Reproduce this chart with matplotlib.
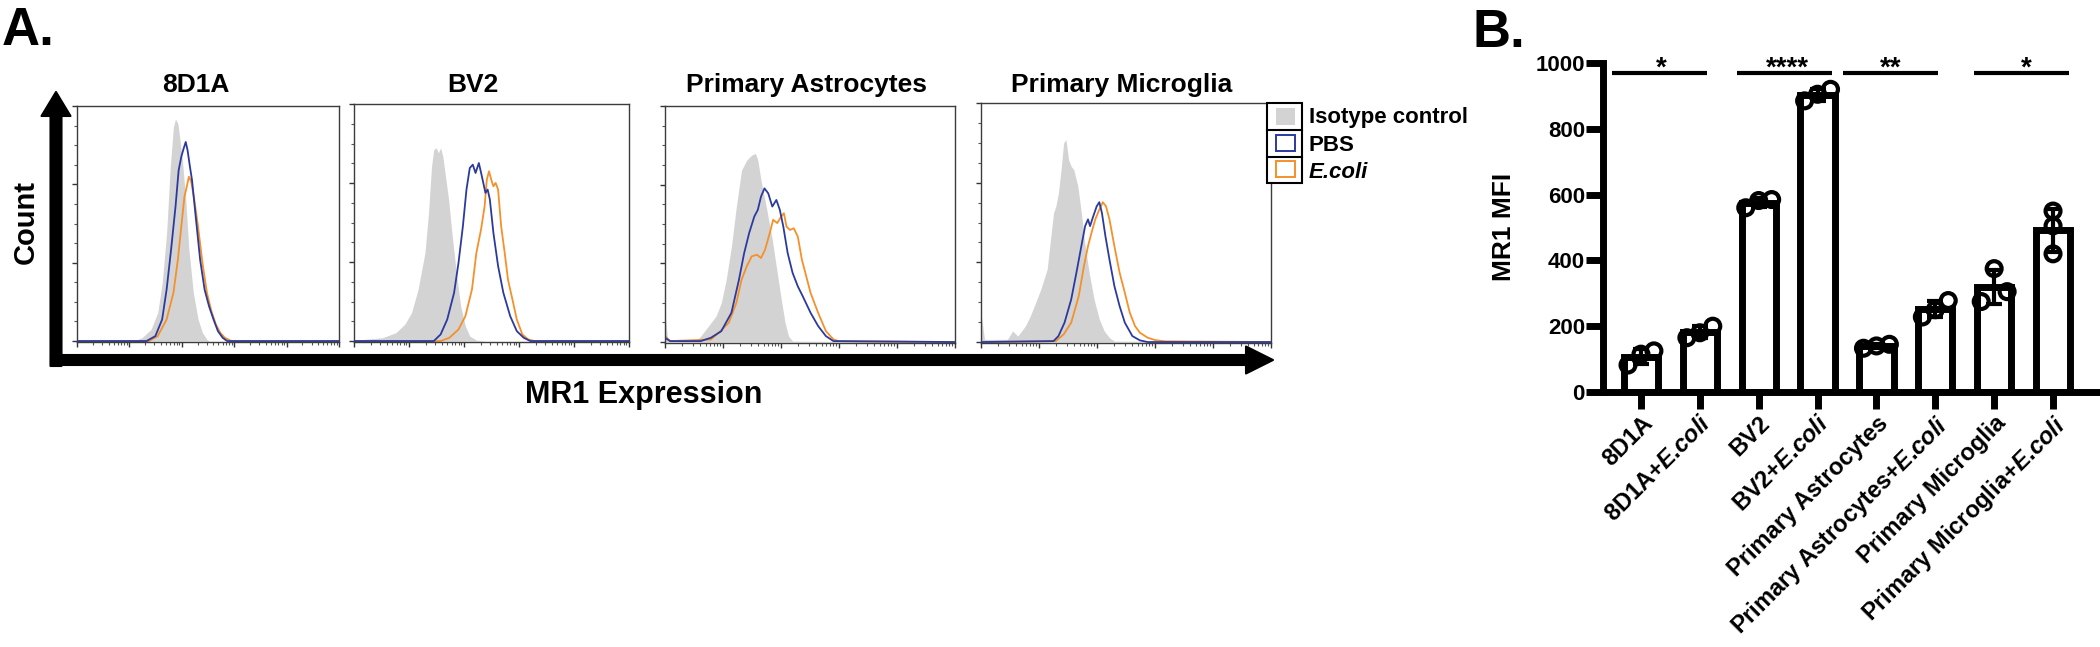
# ============================================================
# MR1 expression: flow histograms (A) + MFI bar chart (B)
# ============================================================
import numpy as np
import matplotlib.pyplot as plt
from matplotlib.patches import FancyArrow, Rectangle

plt.rcParams['font.family'] = ['Liberation Sans', 'DejaVu Sans']
plt.rcParams['font.weight'] = 'bold'
plt.rcParams['mathtext.fontset'] = 'custom'
plt.rcParams['mathtext.rm'] = 'Liberation Sans:bold'
plt.rcParams['mathtext.bf'] = 'Liberation Sans:bold'
plt.rcParams['mathtext.it'] = 'Liberation Sans:italic:bold'

# ==========================
# Data - panel A (histograms, % of panel height vs. position 0-100)
# ==========================
panel_titles = ["8D1A", "BV2", "Primary Astrocytes", "Primary Microglia"]

# 8D1A
iso1_x = [0, 21.4, 24.8, 28.2, 30.8, 32.5, 34.2, 35.6, 36.8, 37.6, 38.5, 39.3, 40.2, 41.5, 42.7, 44.4, 46.2, 47.9, 49.6, 50.4, 100]
iso1_y = [0, 0, 1.4, 4.9, 12.0, 24.7, 45.9, 74.2, 91.2, 94.4, 92.5, 85.6, 77.1, 60.2, 39.0, 20.6, 9.3, 3.5, 0.7, 0, 0]
pbs1_x = [0, 26.5, 29.9, 32.5, 34.2, 35.9, 37.6, 38.8, 39.8, 40.7, 41.5, 42.2, 43.1, 43.9, 45.3, 47.0, 48.7, 50.4, 52.1, 53.8, 55.6, 57.3, 100]
pbs1_y = [0, 0, 2.1, 9.2, 21.9, 38.8, 57.2, 72.7, 78.4, 81.9, 84.7, 81.2, 74.2, 68.5, 53.0, 34.6, 21.9, 14.8, 9.2, 4.2, 1.4, 0, 0]
eco1_x = [0, 27.4, 30.8, 34.2, 36.8, 38.5, 39.8, 41.0, 41.9, 42.7, 43.6, 44.8, 46.2, 47.9, 49.6, 51.3, 53.0, 54.7, 56.4, 59.0, 100]
eco1_y = [0, 0, 2.1, 9.2, 20.5, 34.6, 48.7, 61.4, 65.7, 69.9, 67.8, 59.9, 48.7, 33.1, 20.5, 12.7, 7.1, 3.5, 1.4, 0, 0]

# BV2
iso2_x = [0, 3.8, 10.3, 15.2, 18.4, 20.9, 23.3, 25.8, 27.1, 28.2, 29.0, 29.9, 30.7, 31.5, 32.3, 33.1, 34.4, 35.6, 37.2, 38.8, 40.5, 42.1, 44.5, 47.8, 100]
iso2_y = [0, 0.7, 1.4, 3.5, 7.0, 11.9, 21.8, 37.2, 54.1, 73.7, 80.8, 81.5, 79.4, 81.5, 77.9, 70.9, 59.7, 45.6, 28.8, 14.7, 6.3, 2.1, 0.4, 0, 0]
pbs2_x = [0, 29.0, 31.5, 33.9, 36.4, 38.0, 39.6, 40.9, 42.1, 43.2, 44.2, 45.4, 46.5, 47.8, 48.6, 49.4, 50.7, 52.4, 54.3, 56.8, 59.2, 61.7, 64.1, 100]
pbs2_y = [0, 0, 2.8, 9.1, 20.4, 33.0, 48.5, 63.9, 73.0, 74.4, 70.9, 75.1, 69.5, 62.5, 63.9, 59.7, 45.6, 31.6, 20.4, 10.5, 4.2, 1.4, 0, 0]
eco2_x = [0, 31.5, 34.7, 38.0, 40.5, 42.9, 44.5, 46.2, 47.5, 48.3, 49.1, 49.9, 50.7, 51.5, 52.4, 53.5, 54.8, 56.0, 57.6, 59.2, 61.2, 63.3, 65.7, 100]
eco2_y = [0, 0, 1.4, 4.9, 10.5, 21.8, 37.2, 47.1, 56.9, 68.1, 71.6, 68.1, 65.3, 66.7, 63.9, 48.5, 37.2, 25.9, 17.6, 9.1, 2.8, 0.7, 0, 0]

# Primary Astrocytes
iso3_x = [0, 0.9, 1.8, 10.6, 12.3, 15.0, 17.6, 19.4, 21.1, 22.9, 24.6, 26.4, 28.2, 29.9, 31.2, 32.0, 33.1, 34.9, 37.0, 38.7, 40.1, 41.4, 42.6, 44.0, 100]
iso3_y = [12.4, 1.1, 0.4, 0.4, 2.5, 6.8, 11.0, 16.6, 26.4, 40.5, 57.4, 72.9, 77.1, 79.2, 79.9, 77.1, 68.6, 57.4, 43.3, 29.3, 18.0, 8.2, 2.5, 0.4, 0]
pbs3_x = [0, 1.8, 12.3, 15.8, 19.4, 22.9, 25.5, 27.3, 29.0, 30.8, 32.0, 33.1, 34.3, 35.6, 37.0, 38.4, 39.6, 40.8, 42.3, 44.0, 45.8, 47.5, 50.2, 52.8, 55.5, 58.1, 100]
pbs3_y = [1.8, 0.4, 0.4, 1.8, 4.6, 12.4, 26.4, 37.7, 46.1, 53.2, 56.0, 61.6, 65.1, 63.0, 57.4, 60.2, 56.0, 48.9, 37.7, 29.3, 23.6, 19.4, 12.4, 6.8, 2.5, 0.4, 0]
eco3_x = [0, 1.8, 15.8, 18.5, 22.0, 24.6, 26.4, 28.2, 29.9, 31.7, 33.1, 34.5, 36.1, 37.3, 38.7, 40.1, 41.0, 41.9, 43.1, 44.4, 45.8, 47.2, 48.4, 50.2, 52.8, 55.5, 58.1, 59.9, 100]
eco3_y = [2.5, 0.4, 1.1, 3.9, 8.2, 16.6, 26.4, 32.1, 36.3, 37.0, 35.6, 39.1, 46.1, 51.8, 50.4, 53.2, 54.6, 48.9, 47.5, 48.2, 44.7, 34.9, 29.3, 20.8, 12.4, 4.6, 1.1, 0.4, 0]

# Primary Microglia
iso4_x = [0, 1.2, 9.1, 10.9, 12.7, 15.3, 17.0, 18.8, 20.6, 22.8, 25.0, 25.8, 26.7, 27.6, 28.5, 29.3, 30.2, 31.1, 32.0, 33.4, 34.6, 35.9, 37.3, 39.0, 40.8, 42.5, 44.3, 46.0, 100]
iso4_y = [12.3, 1.1, 1.1, 4.6, 2.5, 6.7, 10.9, 16.4, 22.0, 30.4, 54.0, 56.8, 62.4, 72.1, 83.3, 84.7, 76.3, 73.5, 72.1, 65.2, 54.0, 40.1, 29.0, 17.8, 9.5, 4.6, 1.8, 0.4, 0]
pbs4_x = [0, 25.0, 26.7, 28.8, 31.1, 32.9, 34.6, 35.9, 36.9, 37.6, 38.7, 39.9, 40.8, 41.7, 42.9, 44.3, 46.0, 47.8, 49.6, 52.2, 54.8, 57.5, 100]
pbs4_y = [0, 0.4, 2.5, 8.1, 17.8, 29.0, 40.1, 48.5, 51.3, 48.5, 52.6, 56.8, 58.5, 54.0, 44.3, 34.5, 23.4, 15.0, 8.1, 2.5, 0.7, 0, 0]
eco4_x = [0, 25.8, 28.5, 31.1, 33.7, 35.5, 36.9, 38.1, 39.4, 40.8, 42.0, 43.1, 44.3, 46.0, 47.8, 49.6, 51.3, 53.1, 54.8, 57.5, 60.1, 63.6, 100]
eco4_y = [0, 0.4, 3.2, 8.1, 19.2, 31.8, 40.1, 45.7, 51.3, 55.4, 58.5, 56.8, 51.3, 40.1, 29.0, 20.6, 12.3, 6.7, 3.9, 1.8, 0.8, 0.3, 0]

legend_labels = ["Isotype control", "PBS", "E.coli"]

# ==========================
# Data - panel B (MR1 MFI, 3 replicates per group)
# ==========================
ECOLI = "$\\mathit{E}$.$\\mathit{coli}$"
groups = ["8D1A", "8D1A+" + ECOLI, "BV2", "BV2+" + ECOLI,
          "Primary Astrocytes", "Primary Astrocytes+" + ECOLI,
          "Primary Microglia", "Primary Microglia+" + ECOLI]
mfi_values = [
    [82, 125, 115],
    [165, 200, 180],
    [560, 585, 582],
    [885, 920, 905],
    [133, 145, 140],
    [278, 228, 250],
    [375, 275, 305],
    [550, 505, 420],
]
yticks_b = [0, 200, 400, 600, 800, 1000]
sig_labels = ["*", "****", "**", "*"]
sig_spans = [(-0.49, 1.12), (1.63, 3.24), (3.43, 5.04), (5.65, 7.27)]
sig_star_x = [0.34, 2.49, 4.24, 6.55]

# ==========================
# Colours
# ==========================
c_iso = "#d3d3d3"
c_pbs = "#2b3a9e"
c_eco = "#f5902a"

# ============================================================
# FIGURE
# ============================================================
W, H = 2100, 647
fig = plt.figure(figsize=(21, 6.47), dpi=100)


def px_axes(x0, y0, x1, y1):
    return fig.add_axes([x0 / W, 1 - y1 / H, (x1 - x0) / W, (y1 - y0) / H])


# ============================================================
# PANEL A - HISTOGRAMS
# ============================================================
hist_data = [
    (iso1_x, iso1_y, pbs1_x, pbs1_y, eco1_x, eco1_y),
    (iso2_x, iso2_y, pbs2_x, pbs2_y, eco2_x, eco2_y),
    (iso3_x, iso3_y, pbs3_x, pbs3_y, eco3_x, eco3_y),
    (iso4_x, iso4_y, pbs4_x, pbs4_y, eco4_x, eco4_y),
]
panel_boxes = [(77, 106, 339, 342), (354, 104, 629, 342),
               (665, 106, 955, 343), (981, 103, 1271, 343)]
title_x = [196, 473, 807, 1122]

bottom_major = np.arange(0, 101, 20)
bottom_minor = np.array([d * 20 + 20 * np.log10(k) for d in range(5) for k in range(2, 10)])

for (ix, iy, px, py, ex, ey), box, tx, title in zip(hist_data, panel_boxes, title_x, panel_titles):
    ax = px_axes(*box)
    ax.fill_between(ix, iy, 0, color=c_iso, lw=0, zorder=1)
    ax.plot(px, py, color=c_pbs, lw=1.3, zorder=3)
    ax.plot(ex, ey, color=c_eco, lw=1.3, zorder=2)
    ax.set_xlim(0, 100)
    ax.set_ylim(-0.4, 100)
    for s in ax.spines.values():
        s.set_color("#3c3c3c")
        s.set_linewidth(1.0)
    ax.set_yticks(np.linspace(0, 100, 4))
    ax.set_yticks(np.linspace(0, 100, 13), minor=True)
    ax.set_xticks(bottom_major)
    ax.set_xticks(bottom_minor, minor=True)
    ax.tick_params(which="major", length=3.5, width=1.0, color="#333333", direction="out",
                   labelleft=False, labelbottom=False)
    ax.tick_params(which="minor", length=2, width=0.8, color="#555555", direction="out")
    fig.text(tx / W, 1 - 92 / H, title, ha="center", va="baseline",
             fontsize=19, fontweight="bold")

# ============================================================
# PANEL B - BAR CHART
# ============================================================
idx = np.arange(len(groups))
means = np.array([np.mean(v) for v in mfi_values])
sds = np.array([np.std(v, ddof=1) for v in mfi_values])


def spread(vals, thr=40, step=0.22):
    vals = np.asarray(vals, dtype=float)
    order = np.argsort(vals)
    offs = np.zeros(len(vals))
    clusters, cur = [], [order[0]]
    for a, b in zip(order[:-1], order[1:]):
        if vals[b] - vals[a] < thr:
            cur.append(b)
        else:
            clusters.append(cur)
            cur = [b]
    clusters.append(cur)
    for g in clusters:
        if len(g) > 1:
            offs[g] = np.linspace(-step, step, len(g))
    return offs


axb = px_axes(1603, 63, 2097, 392)
axb.bar(idx, means, width=0.58, color="white", edgecolor="black", linewidth=5, zorder=2)
axb.errorbar(idx, means, yerr=sds, fmt="none", ecolor="black", elinewidth=3,
             capsize=6, capthick=3, zorder=3)
for i, vals in enumerate(mfi_values):
    axb.scatter(i + spread(vals), vals, s=115, facecolors="none", edgecolors="black",
                linewidths=3, zorder=4)

axb.set_xlim(-0.645, 7.747)
axb.set_ylim(0, 1000)
axb.spines["top"].set_visible(False)
axb.spines["right"].set_visible(False)
axb.spines["left"].set_linewidth(5)
axb.spines["bottom"].set_linewidth(5)
axb.set_yticks(yticks_b)
axb.set_yticklabels([str(v) for v in yticks_b], fontsize=16, fontweight="bold")
axb.set_xticks(idx)
axb.set_xticklabels(groups, rotation=45, ha="right", va="top", rotation_mode="anchor",
                    fontsize=17, fontweight="bold")
axb.tick_params(axis="both", length=12, width=5)
axb.tick_params(axis="y", pad=1)
axb.tick_params(axis="x", pad=2)

for lab, (x0, x1), sx in zip(sig_labels, sig_spans, sig_star_x):
    axb.plot([x0, x1], [970, 970], color="black", lw=3, clip_on=False, solid_capstyle="butt")
    axb.text(sx, 962, lab, ha="center", va="baseline", fontsize=20, fontweight="bold",
             clip_on=False)

# ============================================================
# OVERLAY - arrows, labels, legend
# ============================================================
ov = fig.add_axes([0, 0, 1, 1])
ov.set_xlim(0, W)
ov.set_ylim(H, 0)
ov.axis("off")
ov.set_zorder(10)

ov.add_patch(FancyArrow(56, 366, 0, 92 - 366, width=11, head_width=29, head_length=24,
                        length_includes_head=True, color="black", lw=1.5, joinstyle="round"))
ov.add_patch(FancyArrow(51, 360, 1273 - 51, 0, width=10, head_width=27, head_length=27,
                        length_includes_head=True, color="black", lw=1.5, joinstyle="round"))

ov.text(2, 45, "A.", fontsize=38, fontweight="bold", ha="left", va="baseline")
ov.text(1472, 47, "B.", fontsize=38, fontweight="bold", ha="left", va="baseline")
ov.text(26, 222, "Count", rotation=90, ha="center", va="center", fontsize=21, fontweight="bold")
ov.text(644, 403, "MR1 Expression", ha="center", va="baseline", fontsize=22, fontweight="bold")
ov.text(1504, 227, "MR1 MFI", rotation=90, ha="center", va="center", fontsize=19, fontweight="bold")

# legend table
ov.add_patch(Rectangle((1267, 103), 35, 80, facecolor="white", edgecolor="black", lw=1.5))
for yy in [130, 157]:
    ov.plot([1267, 1302], [yy, yy], color="black", lw=1.5)
ov.add_patch(Rectangle((1276, 108), 19, 17, facecolor=c_iso, edgecolor="none"))
ov.add_patch(Rectangle((1276, 135), 19, 16, facecolor="none", edgecolor=c_pbs, lw=1.4))
ov.add_patch(Rectangle((1276, 161), 19, 16, facecolor="none", edgecolor=c_eco, lw=1.4))
for lab, yb in zip(legend_labels, [123, 151, 178]):
    ov.text(1309, yb, lab, ha="left", va="baseline", fontsize=16, fontweight="bold",
            fontstyle="italic" if lab == "E.coli" else "normal")

plt.savefig("out.png", dpi=100)
